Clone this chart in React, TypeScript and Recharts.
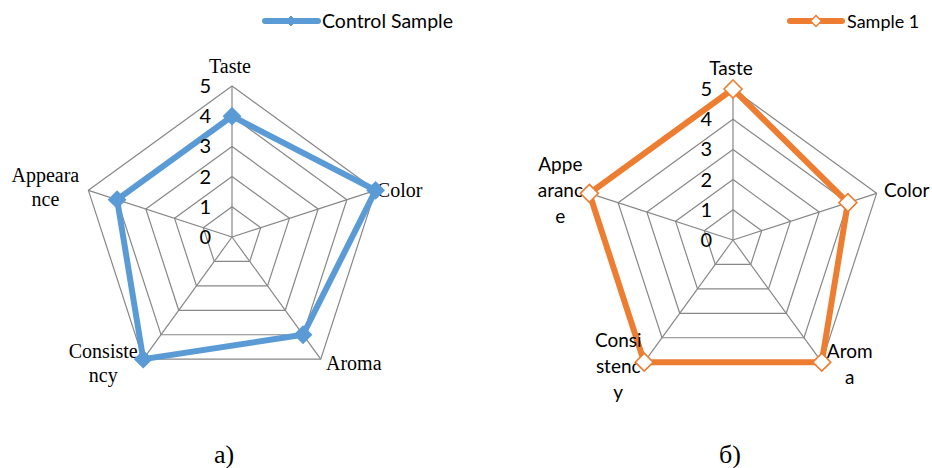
import React from "react";
import { RadarChart, Radar, PolarGrid, PolarAngleAxis, PolarRadiusAxis } from "recharts";

// attribute order runs clockwise from the top
const attributes = ["Taste", "Color", "Aroma", "Consistency", "Appearance"];
const controlSample = [4, 5, 4, 5, 4];
const sample1 = [5, 4, 5, 5, 5];
const radiusTicks = [0, 1, 2, 3, 4, 5];

// how the labels wrap in each panel
const controlLabels = [["Taste"], ["Color"], ["Aroma"], ["Consiste", "ncy"], ["Appeara", "nce"]];
const sample1Labels = [["Taste"], ["Color"], ["Arom", "a"], ["Consi", "stenc", "y"], ["Appe", "aranc", "e"]];

const seriesNames = ["Control Sample", "Sample 1"];
const captions = ["а)", "б)"];

const data = attributes.map((a, i) => ({
  attr: a,
  control: controlSample[i],
  sample1: sample1[i],
}));

const GRID = "#878787";
const BLUE = "#5B9BD5";
const ORANGE = "#ED7D31";
const SERIF = "'Liberation Serif', 'Times New Roman', serif";
const SANS = "Lato, 'Noto Sans', sans-serif";

const R = 151;

function diamond(x: number, y: number, s: number) {
  return `${x},${y - s} ${x + s},${y} ${x},${y + s} ${x - s},${y}`;
}

type PanelProps = {
  left: number;
  cx: number;
  cy: number;
  dataKey: string;
  name: string;
  color: string;
  hollow: boolean;
  labels: string[][];
  offsets: number[][];
  labelFont: string;
  labelSize: number;
  lineHeight: number;
};

function Panel(props: PanelProps) {
  const { left, cx, cy, dataKey, name, color, hollow, labels, offsets, labelFont, labelSize, lineHeight } = props;

  const renderAngleTick = (p: any) => {
    const i = attributes.indexOf(p.payload.value);
    const ang = ((90 - 72 * i) * Math.PI) / 180;
    const vx = cx + R * Math.cos(ang);
    const vy = cy - R * Math.sin(ang);
    const [dx, dy] = offsets[i];
    return (
      <text
        x={vx + dx}
        y={vy + dy}
        textAnchor="middle"
        fill="#000"
        style={{ fontFamily: labelFont, fontSize: labelSize }}
      >
        {labels[i].map((ln, k) => (
          <tspan key={k} x={vx + dx} y={vy + dy + k * lineHeight}>
            {ln}
          </tspan>
        ))}
      </text>
    );
  };

  const renderRadiusTick = (p: any) => (
    <text
      x={p.x - 21}
      y={p.y + 7}
      textAnchor="end"
      fill="#000"
      style={{ fontFamily: SANS, fontSize: 20 }}
    >
      {p.payload.value}
    </text>
  );

  const renderDot = (p: any) => (
    <polygon
      key={p.index}
      points={diamond(p.cx, p.cy, hollow ? 9 : 8)}
      fill={hollow ? "#fff" : color}
      stroke={color}
      strokeWidth={hollow ? 1.6 : 2}
    />
  );

  return (
    <div style={{ position: "absolute", left, top: 0 }}>
      <RadarChart
        width={466}
        height={468}
        data={data}
        cx={cx}
        cy={cy}
        outerRadius={R}
        margin={{ top: 0, right: 0, bottom: 0, left: 0 }}
      >
        <PolarGrid gridType="polygon" stroke={GRID} strokeWidth={1.2} />
        <PolarAngleAxis dataKey="attr" axisLine={false} tickLine={false} tick={renderAngleTick} />
        <PolarRadiusAxis
          angle={90}
          domain={[0, 5]}
          ticks={radiusTicks as any}
          tickCount={6}
          axisLine={false}
          tick={renderRadiusTick}
        />
        <Radar
          name={name}
          dataKey={dataKey}
          stroke={color}
          strokeWidth={6}
          fill="none"
          fillOpacity={0}
          dot={renderDot}
          isAnimationActive={false}
        />
      </RadarChart>
    </div>
  );
}

export default function App() {
  return (
    <div
      style={{
        position: "absolute",
        left: 0,
        top: 0,
        width: 932,
        height: 468,
        background: "#fff",
        overflow: "hidden",
      }}
    >
      <Panel
        left={0}
        cx={232}
        cy={237}
        dataKey="control"
        name={seriesNames[0]}
        color={BLUE}
        hollow={false}
        labels={controlLabels}
        offsets={[[-2, -13], [24, 7], [33, 11], [-40, -1], [-43, -8]]}
        labelFont={SERIF}
        labelSize={20}
        lineHeight={24}
      />
      <Panel
        left={466}
        cx={267}
        cy={240}
        dataKey="sample1"
        name={seriesNames[1]}
        color={ORANGE}
        hollow={true}
        labels={sample1Labels}
        offsets={[[-2, -14], [30, 4], [28, -4], [-26, -15], [-29, -22]]}
        labelFont={SANS}
        labelSize={19}
        lineHeight={26}
      />

      {/* legends and captions */}
      <svg
        width={932}
        height={468}
        style={{ position: "absolute", left: 0, top: 0, pointerEvents: "none" }}
      >
        <line x1={265} y1={21} x2={318} y2={21} stroke={BLUE} strokeWidth={6} strokeLinecap="round" />
        <polygon points={diamond(291, 21, 5)} fill={BLUE} stroke={BLUE} strokeWidth={1} />
        <text x={322} y={28} style={{ fontFamily: SANS, fontSize: 19.5 }} fill="#000">
          {seriesNames[0]}
        </text>

        <line x1={790} y1={21} x2={842} y2={21} stroke={ORANGE} strokeWidth={6} strokeLinecap="round" />
        <polygon points={diamond(816, 21, 5.5)} fill="#fff" stroke={ORANGE} strokeWidth={1.5} />
        <text x={847} y={28} style={{ fontFamily: SANS, fontSize: 18 }} fill="#000">
          {seriesNames[1]}
        </text>

        <text x={224} y={463} textAnchor="middle" style={{ fontFamily: SERIF, fontSize: 26 }} fill="#000">
          {captions[0]}
        </text>
        <text x={730} y={463} textAnchor="middle" style={{ fontFamily: SERIF, fontSize: 26 }} fill="#000">
          {captions[1]}
        </text>
      </svg>
    </div>
  );
}
